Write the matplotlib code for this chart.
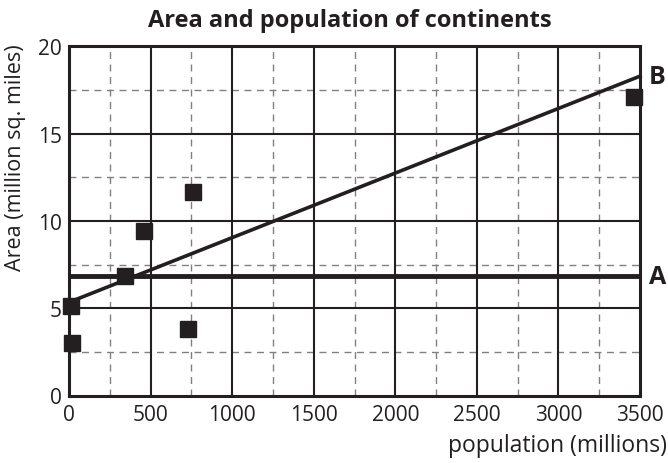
import matplotlib
matplotlib.use("Agg")
import matplotlib.pyplot as plt
import numpy as np

population = [10, 20, 343, 461, 731, 762, 3466]
area = [5.11, 3.01, 6.83, 9.44, 3.81, 11.68, 17.07]
line_a = 6.83
line_b_x = [0, 3500]
line_b_y = [5.34, 18.29]
x_ticks = [0, 500, 1000, 1500, 2000, 2500, 3000, 3500]
y_ticks = [0, 5, 10, 15, 20]

plt.rcParams['font.family'] = ['Open Sans', 'DejaVu Sans']
ink = '#231f20'

fig = plt.figure(figsize=(6.68, 4.64), dpi=100)
ax = fig.add_axes([69/668, 1-396.5/464, (640-69)/668, (396.5-47.3)/464])
ax.set_xlim(0, 3500)
ax.set_ylim(0, 20)

for x in np.arange(250, 3500, 500):
    ax.axvline(x, color='#808080', lw=1, ls=(0, (5, 4)), zorder=1)
for y in np.arange(2.5, 20, 5):
    ax.axhline(y, color='#808080', lw=1, ls=(0, (5, 4)), zorder=1)
for x in x_ticks[1:-1]:
    ax.axvline(x, color=ink, lw=1.5, zorder=2)
for y in y_ticks[1:-1]:
    ax.axhline(y, color=ink, lw=1.5, zorder=2)

ax.axhline(line_a, color=ink, lw=3.5, zorder=3)
ax.plot(line_b_x, line_b_y, color=ink, lw=2.6, zorder=3, clip_on=False)
ax.plot(population, area, 's', color=ink, ms=11.5, zorder=4, clip_on=False)

for s in ax.spines.values():
    s.set_linewidth(2.2)
    s.set_color(ink)

ax.set_xticks(x_ticks)
ax.set_yticks(y_ticks)
ax.tick_params(length=0, labelsize=15, colors=ink)
ax.tick_params(axis='x', pad=6)
ax.tick_params(axis='y', pad=5)

ax.text(3556, line_a, 'A', fontsize=18, fontweight='bold', color=ink, va='center', ha='left')
ax.text(3556, line_b_y[1], 'B', fontsize=18, fontweight='bold', color=ink, va='center', ha='left')

fig.text(350/668, 1 - 21/464, 'Area and population of continents',
         fontsize=17, fontweight='bold', color=ink, ha='center', va='center')
fig.text(667/668, 1 - 446/464, 'population (millions)', fontsize=16.5, color=ink, ha='right', va='center')
fig.text(16/668, 1 - 158/464, 'Area (million sq. miles)', fontsize=15.5, color=ink, rotation=90, ha='center', va='center')

fig.savefig('out.png', dpi=100)
